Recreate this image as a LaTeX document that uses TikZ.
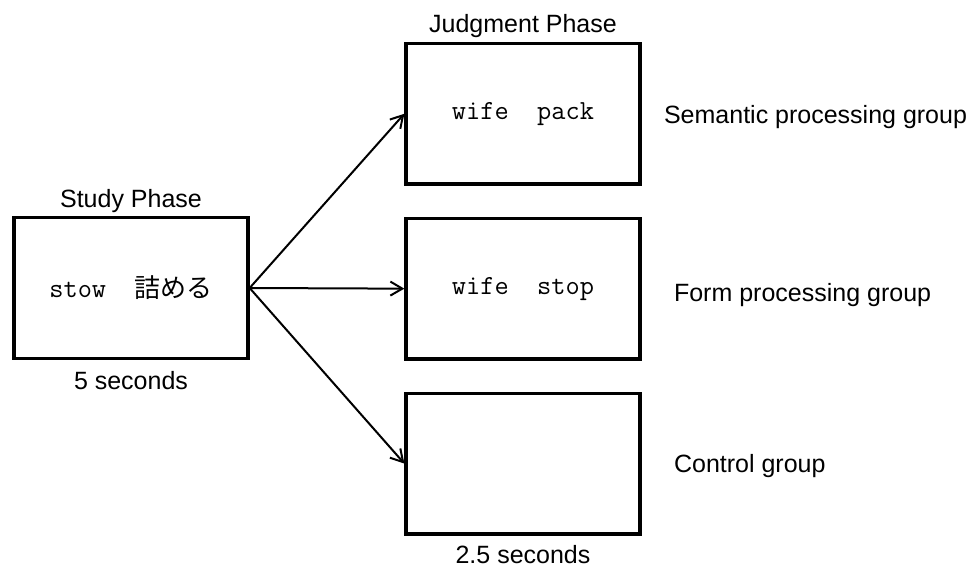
\documentclass[tikz,border=0pt]{standalone}
\usepackage{fontspec}
\setmainfont{Liberation Sans}
\newfontfamily\jpfont{Noto Sans CJK JP}
\usetikzlibrary{arrows.meta, positioning}

\begin{document}
\begin{tikzpicture}[
    x=0.5pt, y=-0.5pt,
    node distance=15.5pt and 11pt,
    panel/.style={rectangle, draw=black, line width=1.65pt, minimum width=117pt,
                  minimum height=70.3pt, inner sep=0pt, align=center,
                  font=\ttfamily\fontsize{13.8}{16}\selectfont},
    caption/.style={inner sep=0pt, text height=9pt, text depth=2.6pt,
                    font=\fontsize{12.5}{15}\selectfont},
    arrow/.style={-{Straight Barb[length=6pt, width=7pt]}, line width=1pt, draw=black}
]
\useasboundingbox (0,0) rectangle (976,568);

\node[panel] (study) at (131,288) {stow~~{\jpfont\fontsize{13}{15}\selectfont 詰める}};
\node[panel] (semantic) at (523,113.75) {wife~~pack};
\node[panel, below=of semantic] (form) {wife~~stop};
\node[panel, below=of form] (control) {};

\node[caption, above=1.4pt of study] (studylbl) {Study Phase};
\node[caption, below=5.5pt of study] (studytime) {5 seconds};
\node[caption, above=1.9pt of semantic] (judgelbl) {Judgment Phase};
\node[caption, below=5pt of control] (judgetime) {2.5 seconds};

\node[caption, right=11pt of semantic, yshift=-1.5pt] (semlbl) {Semantic processing group};
\node[caption, right=16pt of form, yshift=-3pt] (formlbl) {Form processing group};
\node[caption, right=16pt of control, yshift=-1.5pt] (ctrllbl) {Control group};

\draw[arrow] (study.east) -- (semantic.west);
\draw[arrow] (study.east) -- (form.west);
\draw[arrow] (study.east) -- (control.west);

\end{tikzpicture}
\end{document}
